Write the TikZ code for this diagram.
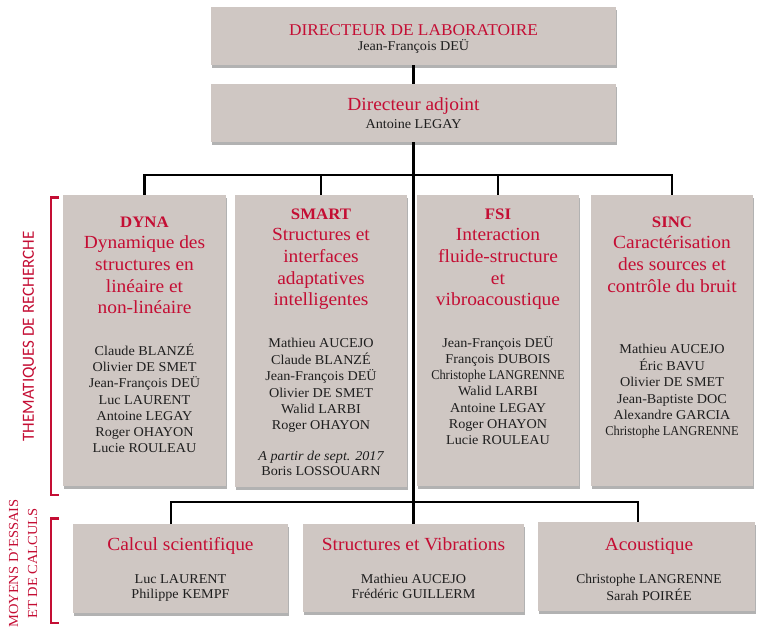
\documentclass[tikz,border=0pt]{standalone}
\usepackage{fontspec}
\setmainfont{Liberation Serif}[FakeStretch=1.05]
\newfontfamily\labfont{Carlito}
\newfontfamily\condfont{Liberation Serif}[FakeStretch=0.92]
\newfontfamily\plainfont{Liberation Serif}
\usetikzlibrary{shadows}
\definecolor{boxc}{RGB}{207,199,195}
\definecolor{redc}{RGB}{196,14,52}
\definecolor{namec}{RGB}{30,30,30}
\tikzset{
  box/.style={fill=boxc, inner sep=0pt, drop shadow={shadow xshift=1.2pt, shadow yshift=-2.5pt, fill=black, opacity=0.3}},
  heading/.style={text=redc, align=center, inner sep=0pt, anchor=north, font=\fontsize{18.5}{21.7}\selectfont},
  names/.style={text=namec, align=center, inner sep=0pt, anchor=north, font=\fontsize{13.5}{16.2}\selectfont},
  namesb/.style={text=namec, align=center, inner sep=0pt, anchor=north, font=\fontsize{13.5}{15}\selectfont},
  conn/.style={line width=2.2pt, black},
  brk/.style={redc, line width=2.8pt, line join=miter},
}
\begin{document}
\begin{tikzpicture}[x=1pt, y=-1pt]
\useasboundingbox (0,0) rectangle (760,627);
% boxes
\node[box, minimum width=405pt, minimum height=58pt] (top) at (413.5,36) {};
\node[box, minimum width=405pt, minimum height=58pt] (adj) at (413.5,113) {};
\node[box, minimum width=163pt, minimum height=291pt] (dyna) at (144.5,340.5) {};
\node[box, minimum width=172pt, minimum height=292pt] (smart) at (321,341) {};
\node[box, minimum width=162pt, minimum height=291pt] (fsi) at (498,340.5) {};
\node[box, minimum width=162pt, minimum height=291pt] (sinc) at (672,340.5) {};
\node[box, minimum width=215pt, minimum height=89pt] (calc) at (180.5,568.5) {};
\node[box, minimum width=221pt, minimum height=88pt] (strv) at (413.5,568) {};
\node[box, minimum width=217pt, minimum height=89pt] (acou) at (646.5,566.5) {};
% connectors
\coordinate (hub) at (413.5,175);
\coordinate (hubb) at (413.5,502);
\coordinate (calcdrop) at (171,524);
\coordinate (acoudrop) at (638,522);
\draw[conn] (top.south) -- (adj.north);
\draw[conn] (adj.south) -- (strv.north);
\draw[conn] (dyna.north) |- (hub) -| (sinc.north);
\draw[conn] (smart.north) -- (smart.north |- hub);
\draw[conn] (fsi.north) -- (fsi.north |- hub);
\draw[conn] (calcdrop) |- (hubb) -| (acoudrop);
% brackets
\draw[brk] (59,197.5) -- (51,197.5) -- (51,495) -- (59,495);
\draw[brk] (59,518.5) -- (51,518.5) -- (51,623) -- (59,623);
% side labels
\node[rotate=90, text=redc, font=\labfont\fontsize{17}{20}\selectfont] (lthem) at (29.5,336.5) {THEMATIQUES DE RECHERCHE};
\node[rotate=90, text=redc, align=center, font=\fontsize{13.8}{19}\selectfont] (lmoy) at (23,563.5) {MOYENS D'ESSAIS\\ET DE CALCULS};
% top texts
\node[heading, font=\fontsize{16.5}{20}\selectfont] (toph) at (413.5,21) {\strut DIRECTEUR DE LABORATOIRE};
\node[names] (topn) at (413.5,38.7) {\strut Jean-François DEÜ};
\node[heading] (adjh) at (413.5,94.8) {\strut Directeur adjoint};
\node[names] (adjn) at (413.5,116.7) {\strut Antoine LEGAY};
% themes
\node[heading] (dynah) at (144.5,211.8) {\strut{\fontsize{16}{21.7}\selectfont\bfseries DYNA}\\Dynamique des\\structures en\\linéaire et\\non-linéaire};
\node[names] (dynan) at (144.5,343.7) {\strut Claude BLANZÉ\\Olivier DE SMET\\Jean-François DEÜ\\Luc LAURENT\\Antoine LEGAY\\Roger OHAYON\\Lucie ROULEAU};
\node[heading] (smarth) at (321,203.8) {\strut{\fontsize{16}{21.7}\selectfont\bfseries SMART}\\Structures et\\interfaces\\adaptatives\\intelligentes};
\node[names] (smartn) at (321,335.7) {\strut Mathieu AUCEJO\\Claude BLANZÉ\\Jean-François DEÜ\\Olivier DE SMET\\Walid LARBI\\Roger OHAYON};
\node[namesb] (smartl) at (321,449.5) {\strut\itshape A partir de sept. 2017\\Boris LOSSOUARN};
\node[heading] (fsih) at (498,203.8) {\strut{\fontsize{16}{21.7}\selectfont\bfseries FSI}\\Interaction\\fluide-structure\\et\\vibroacoustique};
\node[names] (fsin) at (498,335.7) {\strut Jean-François DEÜ\\François DUBOIS\\{\condfont Christophe LANGRENNE}\\Walid LARBI\\Antoine LEGAY\\Roger OHAYON\\Lucie ROULEAU};
\node[heading] (sinch) at (672,211.8) {\strut{\fontsize{16}{21.7}\selectfont\bfseries SINC}\\Caractérisation\\des sources et\\contrôle du bruit};
\node[names] (sincn) at (672,341.7) {\strut Mathieu AUCEJO\\Éric BAVU\\Olivier DE SMET\\Jean-Baptiste DOC\\Alexandre GARCIA\\{\condfont Christophe LANGRENNE}};
% bottom
\node[heading] (calch) at (180.5,534.8) {\strut Calcul scientifique};
\node[namesb] (calcn) at (180.5,572.5) {\strut Luc LAURENT\\Philippe KEMPF};
\node[heading] (strvh) at (413.5,534.8) {\strut Structures et Vibrations};
\node[namesb] (strvn) at (413.5,572.5) {\strut Mathieu AUCEJO\\Frédéric GUILLERM};
\node[heading] (acouh) at (649,534.8) {\strut Acoustique};
\node[namesb] (acoun) at (649,572.5) {\strut {\plainfont Christophe LANGRENNE}\\Sarah POIRÉE};
\end{tikzpicture}
\end{document}
